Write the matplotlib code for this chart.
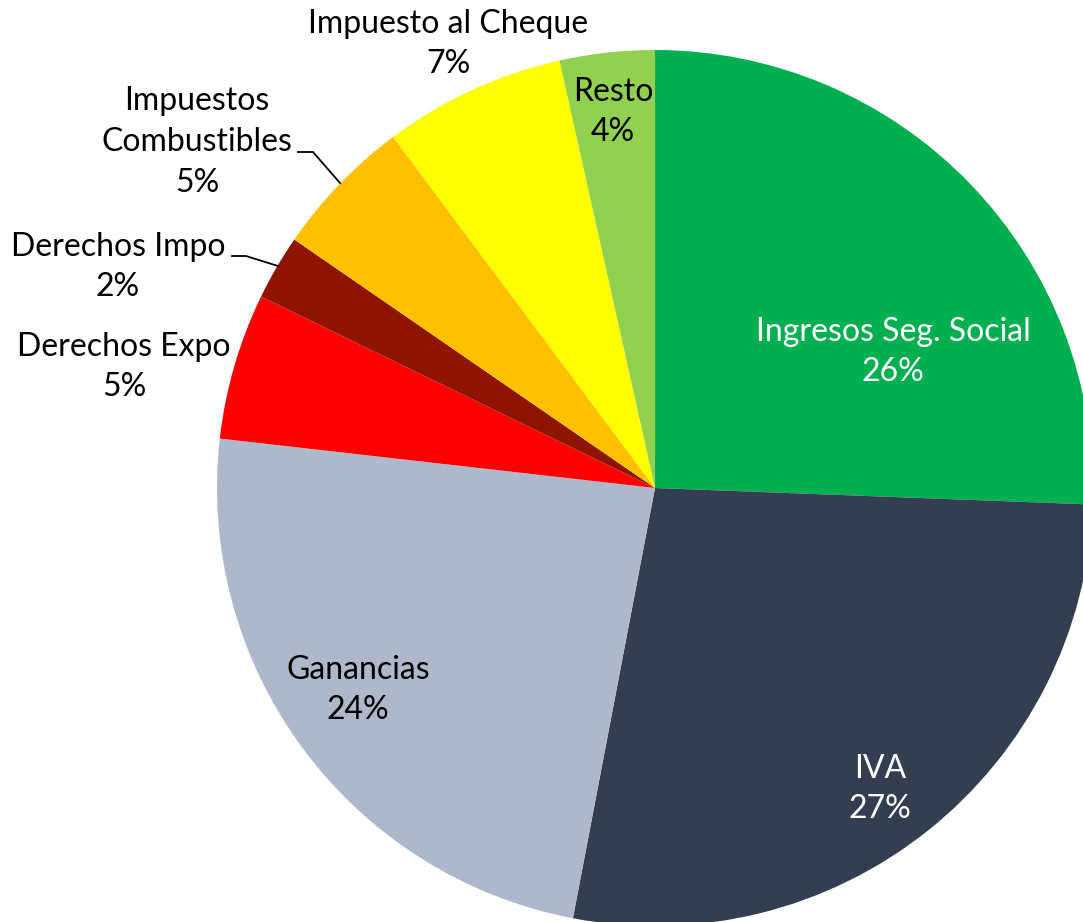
import matplotlib
matplotlib.use("Agg")
import matplotlib.pyplot as plt

categories = ["Ingresos Seg. Social", "IVA", "Ganancias", "Derechos Expo",
              "Derechos Impo", "Impuestos\nCombustibles", "Impuesto al Cheque", "Resto"]
values = [25.6, 27.4, 23.8, 5.4, 2.4, 5.2, 6.7, 3.5]
pct_labels = ["26%", "27%", "24%", "5%", "2%", "5%", "7%", "4%"]
colors = ["#00B050", "#333F50", "#ADB9CA", "#FF0000", "#8E1300", "#FFC000", "#FFFF00", "#92D050"]
text_colors = ["white", "white", "black", "black", "black", "black", "black", "black"]

W, H = 1083, 922
fig = plt.figure(figsize=(W / 100, H / 100), dpi=100)
ax = fig.add_axes([0, 0, 1, 1])

cx, cy, r = 655, H - 488, 438
ax.pie(values, colors=colors, startangle=90, counterclock=False,
       center=(cx, cy), radius=r, frame=True,
       wedgeprops=dict(linewidth=0))
ax.set_xlim(0, W)
ax.set_ylim(0, H)
ax.set_aspect("equal")
ax.axis("off")

font = "Lato"
fs = 23.0
# label block centres in pixel coordinates (x, y from top)
label_pos = [(893, 352), (880, 789), (358, 690), (124, 367),
             (118, 267), (197, 142), (448, 44), (613, 112)]
for cat, pct, (px, py), tc in zip(categories, pct_labels, label_pos, text_colors):
    ax.text(px, H - py, f"{cat}\n{pct}", ha="center", va="center",
            fontsize=fs, family=font, color=tc, linespacing=1.45)

# leader lines
ax.plot([298, 313, 340], [H - 152, H - 152, H - 183], color="black", lw=1.3)
ax.plot([232, 246, 278], [H - 256, H - 256, H - 266], color="black", lw=1.3)

fig.savefig("out.png", dpi=100)
